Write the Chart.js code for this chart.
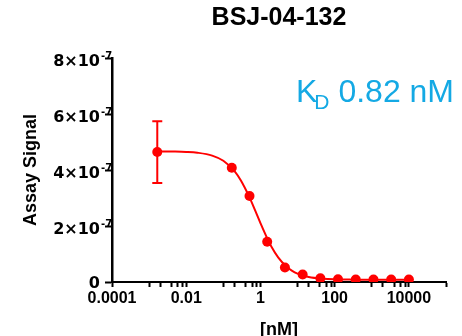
<!DOCTYPE html>
<html>
<head>
<meta charset="utf-8">
<script src="https://cdn.jsdelivr.net/npm/chart.js@4"></script>
<style>
  html, body { margin: 0; padding: 0; background: #fff; }
  #wrap { width: 462px; height: 336px; }
</style>
</head>
<body>
<div id="wrap"><canvas id="chart"></canvas></div>
<script>
// measured points (dose in nM, signal), error bar only on the first one
const doseNM = [0.00166, 0.169, 0.508, 1.52, 4.57, 13.7, 41.2, 123, 370, 1111, 3333, 10000];
const signal = [4.64e-7, 4.08e-7, 3.07e-7, 1.44e-7, 0.52e-7, 0.27e-7, 0.13e-7, 0.10e-7, 0.09e-7, 0.09e-7, 0.09e-7, 0.09e-7];
const signalErr = [1.1e-7, 0, 0, 0, 0, 0, 0, 0, 0, 0, 0, 0];

// fitted curve
const fitDose = [0.00166, 0.005, 0.01, 0.02, 0.05, 0.1, 0.2, 0.3, 0.5, 0.7, 1, 1.5, 2, 3, 5, 7, 10, 20, 50, 100, 300, 1000, 3000, 10000];
const fitSignal = [4.667e-7, 4.66e-7, 4.647e-7, 4.617e-7, 4.515e-7, 4.33e-7, 3.957e-7, 3.613e-7, 3.038e-7, 2.592e-7, 2.103e-7, 1.578e-7, 1.252e-7, 0.88e-7, 0.551e-7, 0.406e-7, 0.298e-7, 0.177e-7, 0.113e-7, 0.094e-7, 0.084e-7, 0.081e-7, 0.08e-7, 0.08e-7];

// axis ticks
const xMajorTicks = [0.0001, 0.01, 1, 100, 10000];
const xMinorTicks = [0.001, 0.002, 0.004, 0.006, 0.008, 0.1, 0.2, 0.4, 0.6, 0.8, 10, 20, 40, 60, 80, 1000, 2000, 4000, 6000, 8000, 100000];
const yTicks = [0, 2e-7, 4e-7, 6e-7, 8e-7];
const yTickBase = ['0', '2×10', '4×10', '6×10', '8×10'];
const yTickExp = ['', '-7', '-7', '-7', '-7'];

const RED = '#FF0000';
const BLUE = '#14A9E4';

// y tick labels with a raised exponent
const yLabelPlugin = {
  id: 'yLabels',
  afterDraw(chart) {
    const ctx = chart.ctx;
    const yScale = chart.scales.y;
    const right = chart.chartArea.left - 12;
    ctx.save();
    ctx.fillStyle = '#000';
    ctx.textBaseline = 'alphabetic';
    yTicks.forEach(function (v, i) {
      const py = yScale.getPixelForValue(v);
      ctx.font = 'bold 16px "DejaVu Sans"';
      ctx.textAlign = 'right';
      if (yTickExp[i]) {
        ctx.fillText(yTickBase[i], right, py + 7.5);
        ctx.font = 'bold 10px "DejaVu Sans"';
        ctx.textAlign = 'left';
        ctx.fillText(yTickExp[i], right + 1, py + 0.5);
      } else {
        ctx.fillText(yTickBase[i], right, py + 6);
      }
    });
    ctx.restore();
  }
};

// vertical error bars with caps
const errorBarPlugin = {
  id: 'errorBars',
  beforeDatasetsDraw(chart) {
    const ctx = chart.ctx;
    const xs = chart.scales.x;
    const ys = chart.scales.y;
    ctx.save();
    ctx.strokeStyle = RED;
    ctx.lineWidth = 2;
    doseNM.forEach(function (d, i) {
      if (!signalErr[i]) return;
      const px = xs.getPixelForValue(d);
      const top = ys.getPixelForValue(signal[i] + signalErr[i]);
      const bottom = ys.getPixelForValue(signal[i] - signalErr[i]);
      ctx.beginPath();
      ctx.moveTo(px, top);
      ctx.lineTo(px, bottom);
      ctx.moveTo(px - 5, top);
      ctx.lineTo(px + 5, top);
      ctx.moveTo(px - 5, bottom);
      ctx.lineTo(px + 5, bottom);
      ctx.stroke();
    });
    ctx.restore();
  }
};

// "K_D 0.82 nM" note in the top right corner
const kdPlugin = {
  id: 'kdNote',
  afterDraw(chart) {
    const ctx = chart.ctx;
    let x = 296;
    const base = 102;
    ctx.save();
    ctx.fillStyle = BLUE;
    ctx.textAlign = 'left';
    ctx.textBaseline = 'alphabetic';
    ctx.font = '32px "Liberation Sans"';
    ctx.fillText('K', x, base);
    x += ctx.measureText('K').width - 3;
    ctx.font = '21px "Liberation Sans"';
    ctx.fillText('D', x, base + 7);
    x += ctx.measureText('D').width;
    ctx.font = '32px "Liberation Sans"';
    ctx.fillText(' 0.82 nM', x, base);
    ctx.restore();
  }
};

document.addEventListener('DOMContentLoaded', function () {
  const ctx = document.getElementById('chart').getContext('2d');

  new Chart(ctx, {
    type: 'line',
    data: {
      datasets: [
        {
          label: 'Fit',
          data: fitDose.map(function (d, i) { return { x: d, y: fitSignal[i] }; }),
          borderColor: RED,
          borderWidth: 2,
          pointRadius: 0,
          fill: false,
          cubicInterpolationMode: 'monotone'
        },
        {
          label: 'BSJ-04-132',
          data: doseNM.map(function (d, i) { return { x: d, y: signal[i] }; }),
          showLine: false,
          pointRadius: 5,
          pointBorderWidth: 0,
          pointBackgroundColor: RED,
          pointBorderColor: RED
        }
      ]
    },
    options: {
      responsive: true,
      maintainAspectRatio: false,
      animation: false,
      layout: { padding: { right: 16 } },
      plugins: {
        legend: { display: false },
        tooltip: { enabled: false },
        title: {
          display: true,
          text: 'BSJ-04-132',
          fullSize: false,
          color: '#000',
          font: { family: 'Liberation Sans', size: 25, weight: 'bold', lineHeight: 1.2 },
          padding: { top: 3, bottom: 25 }
        }
      },
      scales: {
        x: {
          type: 'logarithmic',
          min: 0.0001,
          max: 100000,
          afterBuildTicks: function (scale) {
            scale.ticks = xMajorTicks.concat(xMinorTicks)
              .sort(function (a, b) { return a - b; })
              .map(function (v) { return { value: v }; });
          },
          afterFit: function (scale) { scale.height = 54; },
          ticks: {
            autoSkip: false,
            maxRotation: 0,
            padding: 2,
            color: '#000',
            font: { family: 'Liberation Sans', size: 16, weight: 'bold' },
            callback: function (value) {
              return xMajorTicks.indexOf(value) >= 0 ? String(value) : '';
            }
          },
          grid: {
            drawOnChartArea: false,
            drawTicks: true,
            tickLength: 5,
            tickWidth: 2,
            tickColor: '#000'
          },
          border: { display: true, color: '#000', width: 2 },
          title: {
            display: true,
            text: '[nM]',
            color: '#000',
            font: { family: 'Liberation Sans', size: 18, weight: 'bold' },
            padding: { top: 0, bottom: -5 }
          }
        },
        y: {
          min: 0,
          max: 8e-7,
          afterBuildTicks: function (scale) {
            scale.ticks = yTicks.map(function (v) { return { value: v }; });
          },
          afterFit: function (scale) { scale.width = 112; },
          ticks: { display: false },
          grid: {
            drawOnChartArea: false,
            drawTicks: true,
            tickLength: 7,
            tickWidth: 2,
            tickColor: '#000'
          },
          border: { display: true, color: '#000', width: 2.5 },
          title: {
            display: true,
            text: 'Assay Signal',
            color: '#000',
            font: { family: 'Liberation Sans', size: 18, weight: 'bold' },
            padding: { top: 20.5, bottom: 0 }
          }
        }
      }
    },
    plugins: [errorBarPlugin, yLabelPlugin, kdPlugin]
  });
});
</script>
</body>
</html>
